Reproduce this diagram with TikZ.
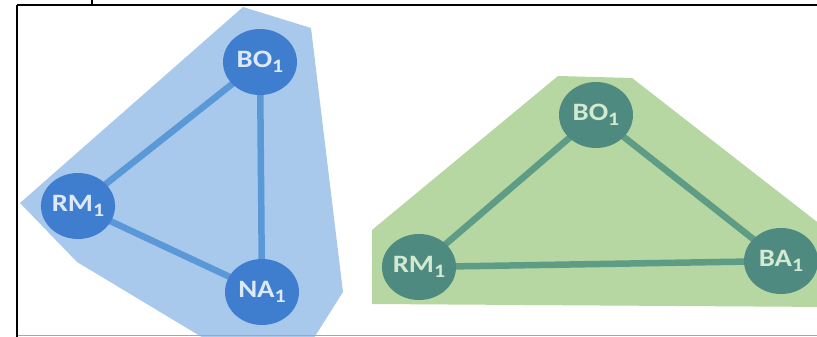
\documentclass[tikz,border=0pt]{standalone}
\usepackage{fontspec}
\newfontfamily\nodefont[FakeStretch=1.15]{Carlito}
\usetikzlibrary{shapes.geometric}
\definecolor{bluezone}{HTML}{A8C9EC}
\definecolor{bluelink}{HTML}{5B98D8}
\definecolor{bluenode}{HTML}{3F7DCF}
\definecolor{bluetext}{HTML}{DDE9F8}
\definecolor{greenzone}{HTML}{B6D7A2}
\definecolor{greenlink}{HTML}{5E9C86}
\definecolor{greennode}{HTML}{4E8A80}
\definecolor{greentext}{HTML}{D3EAD0}
\newcommand{\agentname}[2]{#1\raisebox{-0.4ex}{\fontsize{19}{19}\selectfont #2}}
\tikzset{
  agent/.style={ellipse, minimum width=74pt, minimum height=66pt, inner sep=0pt,
    font=\nodefont\bfseries\fontsize{25}{25}\selectfont},
  bagent/.style={agent, fill=bluenode, text=bluetext},
  gagent/.style={agent, fill=greennode, text=greentext},
  blink/.style={draw=bluelink, line width=6.5pt},
  glink/.style={draw=greenlink, line width=6.5pt},
  rule/.style={draw=black, line width=1.2pt}
}
\begin{document}
\begin{tikzpicture}[x=1pt, y=-1pt]
\useasboundingbox (0,0) rectangle (817,337);
% coalition regions, cut at the picture edge
\begin{scope}
\clip (0,0) rectangle (817,337);
\fill[bluezone] (243,7) -- (311,28) -- (343,292) -- (300,360) -- (240,360)
  -- (77,262) -- (20,203) -- cycle;
\fill[greenzone] (372,230) -- (558,76) -- (632,78) -- (830,232) -- (830,307)
  -- (372,304) -- cycle;
\end{scope}
% node positions
\coordinate (pbo) at (260,62);
\coordinate (prm) at (78,206);
\coordinate (pna) at (262,292);
\coordinate (qbo) at (596,115);
\coordinate (qrm) at (419,267);
\coordinate (qba) at (781,261);
% links
\draw[blink] (pbo) -- (prm);
\draw[blink] (pbo) -- (pna);
\draw[blink] (prm) -- (pna);
\draw[glink] (qbo) -- (qrm);
\draw[glink] (qbo) -- (qba);
\draw[glink] (qrm) -- (qba);
% blue coalition
\node[bagent] (bbo) at (pbo) {\agentname{BO}{1}};
\node[bagent] (brm) at (prm) {\agentname{RM}{1}};
\node[bagent] (bna) at (pna) {\agentname{NA}{1}};
% green coalition
\node[gagent] (gbo) at (qbo) {\agentname{BO}{1}};
\node[gagent] (grm) at (qrm) {\agentname{RM}{1}};
\node[gagent] (gba) at (qba) {\agentname{BA}{1}};
% frame
\coordinate (t0) at (92,0);
\coordinate (t1) at (92,5);
\coordinate (tl) at (17,5);
\coordinate (tr) at (817,5);
\coordinate (bl) at (17,337);
\coordinate (gl) at (17,335.5);
\coordinate (gr) at (817,335.5);
\draw[draw=gray!70, line width=1.5pt] (gl) -- (gr);
\draw[rule] (t0) -- (t1);
\draw[rule] (tl) -- (tr);
\draw[rule] (tl) -- (bl);
\end{tikzpicture}
\end{document}
